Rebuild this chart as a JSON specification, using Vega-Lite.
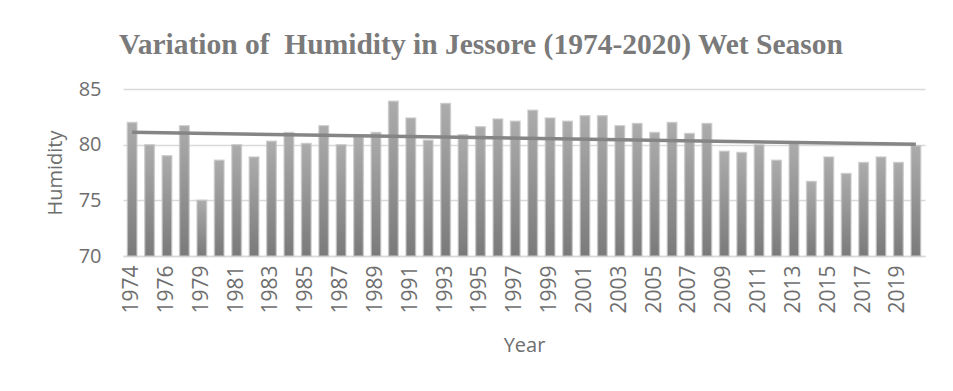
{
  "$schema": "https://vega.github.io/schema/vega-lite/v6.json",
  "width": 802,
  "height": 167,
  "autosize": {"type": "none"},
  "padding": {"left": 123, "top": 89, "right": 28, "bottom": 135},
  "background": "white",
  "title": {
    "text": "Variation of \u00a0Humidity in Jessore (1974-2020) Wet Season",
    "font": "Liberation Serif",
    "fontSize": 29.5,
    "fontWeight": "bold",
    "color": "#7a7a7a",
    "anchor": "middle",
    "frame": "group",
    "dx": -43,
    "offset": 19
  },
  "data": {
    "values": [
      {"Year": 1974, "Humidity": 82.0},
      {"Year": 1975, "Humidity": 80.0},
      {"Year": 1976, "Humidity": 79.0},
      {"Year": 1977, "Humidity": 81.7},
      {"Year": 1979, "Humidity": 75.0},
      {"Year": 1980, "Humidity": 78.6},
      {"Year": 1981, "Humidity": 80.0},
      {"Year": 1982, "Humidity": 78.9},
      {"Year": 1983, "Humidity": 80.3},
      {"Year": 1984, "Humidity": 81.1},
      {"Year": 1985, "Humidity": 80.1},
      {"Year": 1986, "Humidity": 81.7},
      {"Year": 1987, "Humidity": 80.0},
      {"Year": 1988, "Humidity": 80.7},
      {"Year": 1989, "Humidity": 81.1},
      {"Year": 1990, "Humidity": 83.9},
      {"Year": 1991, "Humidity": 82.4},
      {"Year": 1992, "Humidity": 80.4},
      {"Year": 1993, "Humidity": 83.7},
      {"Year": 1994, "Humidity": 80.9},
      {"Year": 1995, "Humidity": 81.6},
      {"Year": 1996, "Humidity": 82.3},
      {"Year": 1997, "Humidity": 82.1},
      {"Year": 1998, "Humidity": 83.1},
      {"Year": 1999, "Humidity": 82.4},
      {"Year": 2000, "Humidity": 82.1},
      {"Year": 2001, "Humidity": 82.6},
      {"Year": 2002, "Humidity": 82.6},
      {"Year": 2003, "Humidity": 81.7},
      {"Year": 2004, "Humidity": 81.9},
      {"Year": 2005, "Humidity": 81.1},
      {"Year": 2006, "Humidity": 82.0},
      {"Year": 2007, "Humidity": 81.0},
      {"Year": 2008, "Humidity": 81.9},
      {"Year": 2009, "Humidity": 79.4},
      {"Year": 2010, "Humidity": 79.3},
      {"Year": 2011, "Humidity": 80.0},
      {"Year": 2012, "Humidity": 78.6},
      {"Year": 2013, "Humidity": 80.1},
      {"Year": 2014, "Humidity": 76.7},
      {"Year": 2015, "Humidity": 78.9},
      {"Year": 2016, "Humidity": 77.4},
      {"Year": 2017, "Humidity": 78.4},
      {"Year": 2018, "Humidity": 78.9},
      {"Year": 2019, "Humidity": 78.4},
      {"Year": 2020, "Humidity": 79.9}
    ]
  },
  "layer": [
    {
      "mark": {
        "type": "bar",
        "color": {
          "gradient": "linear",
          "x1": 0, "y1": 0, "x2": 0, "y2": 1,
          "stops": [
            {"offset": 0, "color": "#acacac"},
            {"offset": 1, "color": "#7a7a7a"}
          ]
        },
        "stroke": "#c4c4c4",
        "strokeWidth": 1.5,
        "strokeOpacity": 0.7
      },
      "encoding": {
        "x": {
          "field": "Year",
          "type": "ordinal",
          "scale": {"paddingInner": 0.45, "paddingOuter": 0.25},
          "axis": {
            "values": [1974, 1976, 1979, 1981, 1983, 1985, 1987, 1989, 1991, 1993, 1995, 1997, 1999, 2001, 2003, 2005, 2007, 2009, 2011, 2013, 2015, 2017, 2019],
            "labelAngle": -90,
            "labelAlign": "right",
            "labelBaseline": "middle",
            "labelPadding": 9,
            "labelFont": "Open Sans",
            "labelFontSize": 21,
            "labelColor": "#6e6e6e",
            "ticks": false,
            "domainColor": "#d9d9d9",
            "domainWidth": 1.5,
            "title": "Year",
            "titleFont": "Open Sans",
            "titleFontSize": 20,
            "titleFontWeight": "normal",
            "titleColor": "#6e6e6e",
            "titleX": 401,
            "titleY": 89,
            "titleBaseline": "middle"
          }
        },
        "y": {
          "field": "Humidity",
          "type": "quantitative",
          "scale": {"domain": [70, 85], "zero": false, "nice": false},
          "axis": {
            "values": [70, 75, 80, 85],
            "ticks": false,
            "domain": false,
            "grid": true,
            "gridColor": "#d9d9d9",
            "gridWidth": 1.5,
            "labelPadding": 22,
            "labelFont": "Open Sans",
            "labelFontSize": 20,
            "labelColor": "#6e6e6e",
            "title": "Humidity",
            "titleFont": "Open Sans",
            "titleFontSize": 20,
            "titleFontWeight": "normal",
            "titleColor": "#6e6e6e",
            "titleX": -68,
            "titleY": 83.5,
            "titleBaseline": "middle"
          }
        },
        "y2": {"datum": 70}
      }
    },
    {
      "transform": [{"regression": "Humidity", "on": "Year"}],
      "mark": {"type": "line", "color": "#858585", "strokeWidth": 3.5},
      "encoding": {
        "x": {"field": "Year", "type": "ordinal", "bandPosition": 0.5},
        "y": {"field": "Humidity", "type": "quantitative"}
      }
    }
  ],
  "config": {
    "view": {"stroke": null}
  }
}
